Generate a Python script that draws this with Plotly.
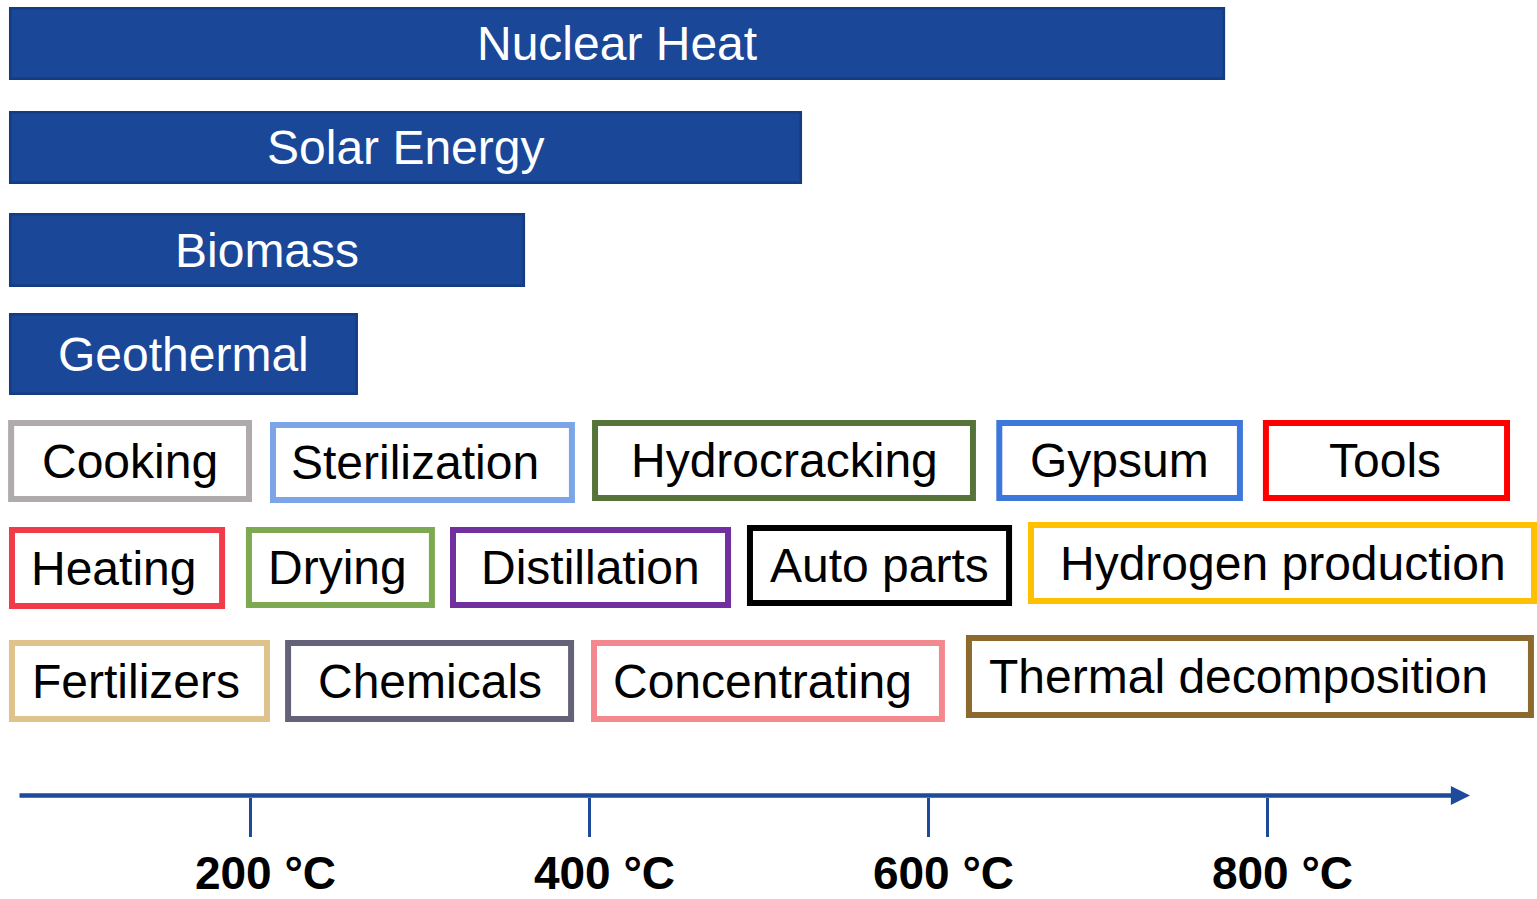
import plotly.graph_objects as go

# ---------------- data (temperatures in °C) ----------------
source_names = ["Nuclear Heat", "Solar Energy", "Biomass", "Geothermal"]
source_start = [57.5, 57.5, 57.5, 57.5]
source_end = [775.0, 525.4, 362.0, 263.4]

app_names = ["Cooking", "Sterilization", "Hydrocracking", "Gypsum", "Tools",
             "Heating", "Drying", "Distillation", "Auto parts", "Hydrogen production",
             "Fertilizers", "Chemicals", "Concentrating", "Thermal decomposition"]
app_start = [57.0, 211.5, 401.5, 640.0, 797.3,
             57.5, 197.3, 317.7, 492.9, 658.7,
             57.5, 220.4, 400.9, 622.1]
app_end = [200.9, 391.4, 628.0, 785.5, 943.1,
           185.0, 308.8, 483.5, 649.3, 959.0,
           211.5, 390.9, 609.7, 957.2]

tick_values = [200, 400, 600, 800]
tick_labels = ["200 °C", "400 °C", "600 °C", "800 °C"]

# ---------------- styles / layout ----------------
app_colors = ["#AFABAB", "#7BA5E6", "#55733A", "#3C78DC", "#FF0000",
              "#EF3B4A", "#7DAA50", "#7030A0", "#000000", "#FFC000",
              "#E0C38C", "#646278", "#F4888F", "#8C6A2E"]
# vertical layout (pixel units of the hidden y axis): centre and outer height
source_yc = [43.5, 147.5, 250.0, 354.0]
source_h = [73, 73, 74, 82]
app_yc = [461, 462.5, 460.5, 460.5, 460.5,
          568, 567.5, 567.5, 565.5, 563,
          681, 681, 681, 676.5]
app_h = [82, 81, 81, 81, 81,
         82, 81, 81, 81, 82,
         82, 82, 82, 83]
# horizontal nudge of each label from its box centre (px)
app_label_dx = [-0.5, -7.5, 0, 0, -1,
                -3.5, -3, 0, 0, 0,
                -3.5, 0, -5, -11.5]

W, H = 1537, 899
PLOT_BOTTOM = 797
XMIN, XMAX = 52.21, 959.0
PX_PER_DEG = W / (XMAX - XMIN)

FONT = "Liberation Sans, Arial, Helvetica, sans-serif"
BLUE = "#1B4799"
BLUE_EDGE = "#153B80"
AXIS_BLUE = "#1E4A9A"

src_lw = 2.5
app_lw = 6.0

fig = go.Figure()

# energy source bars
ins = src_lw / 2 / PX_PER_DEG
fig.add_trace(go.Bar(
    orientation="h",
    y=source_yc,
    base=[s + ins for s in source_start],
    x=[(e - s) - 2 * ins for s, e in zip(source_start, source_end)],
    width=[h - src_lw for h in source_h],
    marker=dict(color=BLUE, line=dict(color=BLUE_EDGE, width=src_lw)),
    hoverinfo="skip", showlegend=False,
))

# application boxes
ins = app_lw / 2 / PX_PER_DEG
fig.add_trace(go.Bar(
    orientation="h",
    y=app_yc,
    base=[s + ins for s in app_start],
    x=[(e - s) - 2 * ins for s, e in zip(app_start, app_end)],
    width=[h - app_lw for h in app_h],
    marker=dict(color="white", line=dict(color=app_colors, width=app_lw)),
    hoverinfo="skip", showlegend=False,
))

annotations = []
for n, s, e, yc in zip(source_names, source_start, source_end, source_yc):
    annotations.append(dict(x=(s + e) / 2, y=yc, xref="x", yref="y", text=n,
                            showarrow=False, xanchor="center", yanchor="middle",
                            font=dict(family=FONT, size=48, color="white")))
for n, s, e, yc, dx in zip(app_names, app_start, app_end, app_yc, app_label_dx):
    annotations.append(dict(x=(s + e) / 2, y=yc, xref="x", yref="y", text=n,
                            xshift=dx,
                            showarrow=False, xanchor="center", yanchor="middle",
                            font=dict(family=FONT, size=48, color="black")))

# temperature arrow
x_tail = XMIN + 18 / PX_PER_DEG
x_head = XMIN + 1470 / PX_PER_DEG
annotations.append(dict(x=x_head, y=795.5, ax=x_tail, ay=795.5,
                        xref="x", yref="y", axref="x", ayref="y",
                        text="", showarrow=True, arrowhead=2, arrowsize=0.85,
                        arrowwidth=4.5, arrowcolor=AXIS_BLUE, standoff=0, startstandoff=0))

fig.update_layout(
    width=W, height=H,
    margin=dict(l=0, r=0, t=0, b=H - PLOT_BOTTOM, pad=0, autoexpand=False),
    paper_bgcolor="white", plot_bgcolor="white",
    barmode="overlay",
    annotations=annotations,
    xaxis=dict(range=[XMIN, XMAX], showgrid=False, zeroline=False, showline=False,
               automargin=False,
               ticks="outside", ticklen=39, tickwidth=3, tickcolor=AXIS_BLUE,
               tickvals=tick_values, ticktext=tick_labels,
               tickfont=dict(family=FONT, size=46, color="black", weight="bold"),
               ticklabelstandoff=-3, ticklabelshift=15, fixedrange=True),
    yaxis=dict(range=[PLOT_BOTTOM, 0], visible=False, showgrid=False, zeroline=False,
               automargin=False, fixedrange=True),
)

fig.write_html("out.html", config={"displayModeBar": False},
               post_script="document.body.style.margin='0';document.body.style.overflow='hidden';")
